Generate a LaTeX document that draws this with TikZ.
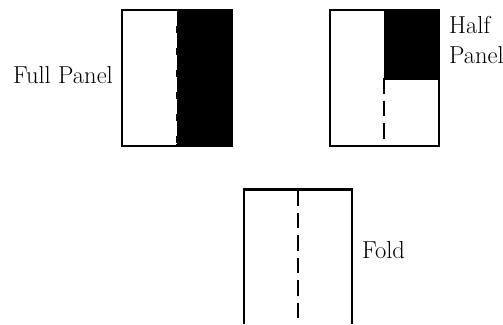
\documentclass[tikz,border=0pt]{standalone}
\usepackage{fontspec}
\begin{document}
\begin{tikzpicture}[x=1pt,y=-1pt,
  frame/.style={draw=black,line width=2.5pt},
  fold/.style={draw=black,line width=2pt,dash pattern=on 15.5pt off 7pt},
  lbl/.style={font=\fontsize{24.5}{30}\selectfont,inner sep=0pt}]
\useasboundingbox (0,0) rectangle (503,324);
% Panel 1
\fill[black] (176,9) rectangle (233,146);
\draw[white,line width=1.2pt,dash pattern=on 15pt off 7pt] (176.5,11) -- (176.5,144);
\draw[frame] (122,10) rectangle (232,146);
\node[lbl,anchor=base east] (full) at (113,83) {Full Panel};
% Panel 2
\fill[black] (384,9) rectangle (440,80);
\draw[fold] (384,78) -- (384,146);
\draw[frame] (330,10) rectangle (439,146);
\node[lbl,anchor=base west] (half) at (449,33) {Half};
\node[lbl,anchor=base west] (panel) at (449,63) {Panel};
% Panel 3
\coordinate (fa) at (244,324);
\coordinate (fb) at (244,189.5);
\coordinate (fc) at (352,189.5);
\coordinate (fd) at (352,324);
\draw[frame] (fa) -- (fb) -- (fc) -- (fd);
\coordinate (ft) at (298,190);
\coordinate (fbot) at (298,324);
\draw[fold] (ft) -- (fbot);
\node[lbl,anchor=base west] (foldl) at (362,258) {Fold};
\end{tikzpicture}
\end{document}
